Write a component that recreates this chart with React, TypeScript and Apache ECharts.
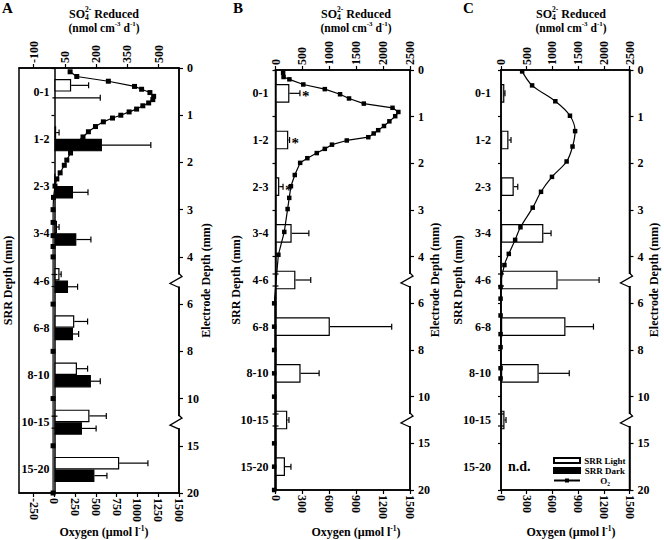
import React, { useEffect, useRef } from 'react';
import * as echarts from 'echarts';

const FONT = '"Liberation Serif", "Times New Roman", serif';

// ---------- data ----------
const srrDepths = ['0-1', '1-2', '2-3', '3-4', '4-6', '6-8', '8-10', '10-15', '15-20'];
const electrodeTicks = [0, 1, 2, 3, 4, 6, 8, 10, 15, 20];

const o2TicksA = [-250, 0, 250, 500, 750, 1000, 1250, 1500];
const so4TicksA = [-100, 50, 200, 350, 500];

// Panel A (SO4 nmol cm-3 d-1)
const lightA = [80, 8, 3, 12, 24, 95, 108, 168, 311];
const lightErrA = [84, 14, 0, 10, 8, 64, 51, 81, 138];
const darkA = [-10, 228, 89, 105, 65, 89, 175, 132, 192];
const darkErrA = [230, 235, 72, 70, 46, 27, 45, 68, 60];
// Panel A oxygen profile (depth mm, µmol l-1)
const o2DepthA = [0.08, 0.18, 0.28, 0.39, 0.45, 0.52, 0.6, 0.67, 0.74, 0.8, 0.87, 0.93, 1.0, 1.06, 1.14, 1.24, 1.35, 1.46, 1.57, 1.68, 1.8, 1.95, 2.06, 2.22, 2.35, 2.5, 2.74, 3.0, 3.27, 3.55, 3.78, 4.0, 6, 8, 10, 15, 20];
const o2A = [190, 270, 650, 965, 1050, 1150, 1195, 1185, 1135, 1065, 990, 900, 800, 700, 590, 495, 410, 345, 270, 225, 195, 150, 120, 70, 30, 8, -10, -15, -15, -15, -15, -15, -15, -15, -15, -15, -15];

// Panel B
const lightB = [258, 237, 70, 300, 370, 1010, 466, 218, 176];
const lightErrB = [196, 25, 70, 320, 285, 1150, 345, 32, 111];
const starsB = [1, 1, 1, 0, 0, 0, 0, 0, 0];
const o2DepthB = [0.06, 0.15, 0.2, 0.31, 0.41, 0.52, 0.61, 0.72, 0.81, 0.9, 0.99, 1.1, 1.2, 1.29, 1.36, 1.44, 1.51, 1.6, 1.69, 1.78, 1.89, 1.99, 2.25, 2.49, 2.74, 2.98, 3.47, 3.96, 6, 7, 8, 9, 10, 15, 17.5, 20];
const o2B = [85, 90, 155, 310, 550, 720, 820, 985, 1305, 1370, 1335, 1270, 1210, 1145, 1095, 1035, 795, 630, 550, 460, 355, 275, 215, 172, 153, 135, 98, 32, -15, -15, -15, -15, -15, -15, -15, -15];

// Panel C
const lightC = [65, 145, 248, 824, 1101, 1254, 733, 68, null];
const lightErrC = [12, 50, 78, 150, 808, 545, 595, 30, 0];
const notDetectedC = [0, 0, 0, 0, 0, 0, 0, 0, 1];
const o2DepthC = [0.03, 0.33, 0.67, 0.98, 1.31, 1.64, 1.96, 2.29, 2.61, 2.95, 3.37, 3.64, 3.94, 4.36, 5.3, 5.8, 6.52, 7.32, 7.88, 8.78, 9.22];
const o2C = [247, 363, 634, 805, 865, 835, 766, 595, 467, 370, 227, 165, 91, 40, -5, -5, -5, -5, -5, -5, -5];

// ---------- helpers ----------
function depthToPos(d: number): number {
  const t = electrodeTicks;
  for (let i = 0; i < t.length - 1; i++) {
    if (d <= t[i + 1]) return i + (d - t[i]) / (t[i + 1] - t[i]);
  }
  return t.length - 1;
}

let measureCtx: CanvasRenderingContext2D | null = null;
function textWidth(t: string, fs: number): number {
  if (!measureCtx) measureCtx = document.createElement('canvas').getContext('2d');
  if (!measureCtx) return t.length * fs * 0.5;
  measureCtx.font = `bold ${fs}px "Liberation Serif"`;
  return measureCtx.measureText(t).width;
}

function txt(x: number, y: number, t: string, fs: number, align = 'left', weight = 'bold') {
  return {
    type: 'text', x, y, z: 60, silent: true,
    style: {
      text: t, fontSize: fs, fontWeight: weight, fontFamily: FONT, fill: '#000', textFill: '#000',
      align, verticalAlign: 'middle', textAlign: align, textVerticalAlign: 'middle',
    },
  };
}

type Part = { t: string; fs: number; dy?: number };
type Seg = Part | { stack: Part[] };
function lineTexts(cx: number, cy: number, segs: Seg[]) {
  const widths = segs.map((s) =>
    'stack' in s ? Math.max(...s.stack.map((q) => textWidth(q.t, q.fs))) : textWidth(s.t, s.fs)
  );
  const total = widths.reduce((a, b) => a + b, 0);
  let x = cx - total / 2;
  const out: any[] = [];
  segs.forEach((s, i) => {
    const parts = 'stack' in s ? s.stack : [s];
    parts.forEach((p) => out.push(txt(x, cy + (p.dy || 0), p.t, p.fs)));
    x += widths[i];
  });
  return out;
}

function errorBarSeries(xi: number, yi: number, vals: (number | null)[], errs: number[], offsetFrac: number, stars?: number[], nd?: number[]) {
  const data = vals.map((v, i) => [v == null ? 0 : v, i, v == null ? 0 : errs[i], stars ? stars[i] : 0, nd ? nd[i] : 0]);
  return {
    type: 'custom', xAxisIndex: xi, yAxisIndex: yi, z: 8, silent: true, clip: false,
    encode: { x: 0, y: 1 },
    itemStyle: { color: '#000' },
    data,
    renderItem: (params: any, api: any) => {
      const v = api.value(0) as number;
      const c = api.value(1) as number;
      const e = api.value(2) as number;
      const star = api.value(3);
      const ndf = api.value(4);
      const band = (api.size([0, 1], [v, c]) as number[])[1];
      const p0 = api.coord([v, c]);
      const p1 = api.coord([v + e, c]);
      const y = p0[1] + offsetFrac * band;
      const children: any[] = [];
      const ls = { stroke: '#000', lineWidth: 1.2 };
      if (e > 0) {
        children.push({ type: 'line', shape: { x1: p0[0], y1: y, x2: p1[0], y2: y }, style: ls });
        children.push({ type: 'line', shape: { x1: p1[0], y1: y - 3, x2: p1[0], y2: y + 3 }, style: ls });
      }
      if (star) children.push(txt(p1[0] + 2, y + 3, '*', 15, 'left', 'bold'));
      if (ndf) children.push(txt(p0[0] + 7, y, 'n.d.', 14));
      return { type: 'group', children };
    },
  };
}

const panels = [
  { letter: 'A', left: 19, top: 68, width: 160, height: 425, o2: [-425, 1500], so4: [-169.6, 598.4], o2Ticks: o2TicksA, so4Ticks: so4TicksA, catMargin: 5, leftGap: 41, rightGap: 21, cx: 104, letterX: 2 },
  { letter: 'B', left: 275.5, top: 70, width: 134.5, height: 420, o2: [0, 1500], so4: [0, 2500], o2Interval: 300, so4Interval: 500, catMargin: 7, leftGap: 34, rightGap: 18.5, cx: 356, letterX: 233 },
  { letter: 'C', left: 501, top: 70, width: 128.5, height: 420, o2: [0, 1500], so4: [0, 2500], o2Interval: 300, so4Interval: 500, catMargin: 10, leftGap: 37.5, rightGap: 18.5, cx: 571, letterX: 463 },
] as any[];

const axisLineStyle = { color: '#000', width: 1.5 };
const tickStyle = { color: '#000', width: 1.2 };
const labelStyle = { color: '#000', fontSize: 12, fontWeight: 'bold', fontFamily: FONT };
const nameStyle = { color: '#000', fontSize: 12, fontWeight: 'bold', fontFamily: FONT };
const plain = (v: number) => String(v);

function buildOption() {
  const grid: any[] = [];
  const xAxis: any[] = [];
  const yAxis: any[] = [];
  const graphic: any[] = [];

  panels.forEach((p, k) => {
    // zero position of the bar / oxygen axes (both share the same zero)
    const zeroFrac = (0 - p.o2[0]) / (p.o2[1] - p.o2[0]);
    const innerLeft = Math.round((p.left + zeroFrac * p.width) * 2) / 2;
    const right = p.left + p.width;
    // outer grid: frame, top/bottom/right axes, oxygen profile
    grid.push({ left: p.left, top: p.top, width: p.width, height: p.height, containLabel: false, outerBoundsMode: 'none', show: true, borderColor: '#000', borderWidth: 1.5, backgroundColor: 'transparent' });
    // inner grid: SRR category axis starting at zero
    grid.push({ left: innerLeft, top: p.top, width: right - innerLeft, height: p.height, containLabel: false, outerBoundsMode: 'none', show: false });
    const so4Max = p.so4[0] + ((p.so4[1] - p.so4[0]) * (right - p.left)) / p.width;

    // top SO4 axis (outer)
    xAxis.push({
      gridIndex: 2 * k, type: 'value', position: 'top', min: p.so4[0], max: p.so4[1],
      ...(p.so4Interval ? { interval: p.so4Interval } : {}),
      axisLine: { show: true, onZero: false, lineStyle: axisLineStyle },
      axisTick: { show: true, length: 4, lineStyle: tickStyle, ...(p.so4Ticks ? { customValues: p.so4Ticks } : {}) },
      axisLabel: { ...labelStyle, rotate: -90, margin: 5, formatter: plain, ...(p.so4Ticks ? { customValues: p.so4Ticks } : {}) },
      splitLine: { show: false },
    });
    // bottom O2 axis (outer)
    xAxis.push({
      gridIndex: 2 * k, type: 'value', position: 'bottom', min: p.o2[0], max: p.o2[1],
      ...(p.o2Interval ? { interval: p.o2Interval } : {}),
      axisLine: { show: true, onZero: false, lineStyle: axisLineStyle },
      axisTick: { show: true, length: 4, lineStyle: tickStyle, ...(p.o2Ticks ? { customValues: p.o2Ticks } : {}) },
      axisLabel: { ...labelStyle, rotate: -90, margin: 5, formatter: plain, ...(p.o2Ticks ? { customValues: p.o2Ticks } : {}) },
      splitLine: { show: false },
    });
    // hidden SO4 axis for the bars (inner, from zero)
    xAxis.push({
      gridIndex: 2 * k + 1, type: 'value', show: false, min: 0, max: so4Max,
      axisLine: { show: false, onZero: false }, splitLine: { show: false },
    });
    // right electrode depth axis (outer)
    yAxis.push({
      gridIndex: 2 * k, type: 'value', position: 'right', inverse: true, min: 0, max: electrodeTicks.length - 1, interval: 1,
      axisLine: { show: true, onZero: false, lineStyle: axisLineStyle },
      axisTick: { show: true, length: 4, lineStyle: tickStyle },
      axisLabel: { ...labelStyle, margin: 8, formatter: (v: number) => String(electrodeTicks[Math.round(v)]) },
      splitLine: { show: false },
      name: 'Electrode Depth (mm)', nameLocation: 'middle', nameRotate: 90, nameGap: p.rightGap, nameMoveOverlap: false, nameTextStyle: nameStyle,
    });
    // left SRR category axis (inner)
    yAxis.push({
      gridIndex: 2 * k + 1, type: 'category', data: srrDepths, inverse: true, position: 'left',
      axisLine: { show: true, onZero: false, lineStyle: axisLineStyle },
      axisTick: { show: true, length: 3, lineStyle: tickStyle },
      axisLabel: { ...labelStyle, margin: p.catMargin },
      splitLine: { show: false },
      name: 'SRR Depth (mm)', nameLocation: 'middle', nameRotate: 90, nameGap: p.leftGap, nameMoveOverlap: false, nameTextStyle: nameStyle,
    });

    // decorations: letter, titles, bottom label
    graphic.push(txt(p.letterX, 8, p.letter, 15));
    graphic.push(...lineTexts(p.cx, 13.5, [
      { t: 'SO', fs: 12 },
      { stack: [{ t: '2-', fs: 7.5, dy: -4 }, { t: '4', fs: 7.5, dy: 3.5 }] },
      { t: ' Reduced', fs: 12 },
    ]));
    graphic.push(...lineTexts(p.cx, 27.5, [
      { t: '(nmol cm', fs: 11.5 },
      { t: '-3', fs: 7, dy: -3.5 },
      { t: ' d', fs: 11.5 },
      { t: '-1', fs: 7, dy: -3.5 },
      { t: ')', fs: 11.5 },
    ]));
    graphic.push(...lineTexts(p.cx, 532, [
      { t: 'Oxygen (µmol l', fs: 12 },
      { t: '-1', fs: 7.5, dy: -3.5 },
      { t: ')', fs: 12 },
    ]));

    // axis breaks
    const band = p.height / (electrodeTicks.length - 1);
    const rx = right;
    const lx = innerLeft;
    [4.5, 7.5].forEach((b) => {
      const yb = p.top + b * band;
      graphic.push({ type: 'rect', z: 50, silent: true, shape: { x: rx - 2, y: yb - 6, width: 4, height: 12 }, style: { fill: '#fff' } });
      graphic.push({ type: 'polyline', z: 51, silent: true, shape: { points: [[rx, yb - 7], [rx + 3, yb - 4], [rx - 9, yb + 3], [rx, yb + 7]] }, style: { stroke: '#000', lineWidth: 1.3, fill: null } });
      graphic.push({ type: 'line', z: 51, silent: true, shape: { x1: lx - 3, y1: yb - 6, x2: lx + 3, y2: yb - 6 }, style: { stroke: '#000', lineWidth: 1.2 } });
      graphic.push({ type: 'line', z: 51, silent: true, shape: { x1: lx - 3, y1: yb + 6, x2: lx + 3, y2: yb + 6 }, style: { stroke: '#000', lineWidth: 1.2 } });
    });
  });

  const lightStyle = { color: '#fff', borderColor: '#000', borderWidth: 1.2 };
  const darkStyle = { color: '#000', borderColor: '#000', borderWidth: 1.2 };
  const barX = (k: number) => 3 * k + 2;
  const barY = (k: number) => 2 * k + 1;
  const lineSeries = (k: number, depths: number[], vals: number[], smooth: boolean | number, size: number) => ({
    type: 'line', name: 'O₂', xAxisIndex: 3 * k + 1, yAxisIndex: 2 * k,
    data: vals.map((v, i) => [v, depthToPos(depths[i])]),
    symbol: 'rect', symbolSize: size, showSymbol: true, smooth, clip: false, z: 6,
    lineStyle: { color: '#000', width: 1.2 }, itemStyle: { color: '#000' },
  });

  const series: any[] = [
    // Panel A
    { type: 'bar', name: 'SRR Light', xAxisIndex: barX(0), yAxisIndex: barY(0), data: lightA, barCategoryGap: '47%', barGap: '0%', itemStyle: lightStyle, z: 2 },
    { type: 'bar', name: 'SRR Dark', xAxisIndex: barX(0), yAxisIndex: barY(0), data: darkA, barCategoryGap: '47%', barGap: '0%', itemStyle: darkStyle, z: 2 },
    errorBarSeries(barX(0), barY(0), lightA, lightErrA, -0.1325),
    errorBarSeries(barX(0), barY(0), darkA, darkErrA, 0.1325),
    lineSeries(0, o2DepthA, o2A, false, 5),
    // Panel B
    { type: 'bar', name: 'SRR Light', xAxisIndex: barX(1), yAxisIndex: barY(1), data: lightB, barCategoryGap: '60%', itemStyle: lightStyle, z: 2 },
    errorBarSeries(barX(1), barY(1), lightB, lightErrB, 0, starsB),
    lineSeries(1, o2DepthB, o2B, false, 4.5),
    // Panel C
    { type: 'bar', name: 'SRR Light', xAxisIndex: barX(2), yAxisIndex: barY(2), data: lightC, barCategoryGap: '60%', itemStyle: lightStyle, z: 2 },
    errorBarSeries(barX(2), barY(2), lightC, lightErrC, 0, undefined, notDetectedC),
    lineSeries(2, o2DepthC, o2C, 0.35, 4.5),
  ];

  return {
    animation: false,
    backgroundColor: '#fff',
    textStyle: { fontFamily: FONT },
    grid, xAxis, yAxis, series, graphic,
    legend: {
      show: true, orient: 'vertical', left: 553, top: 456, padding: 0,
      itemWidth: 26, itemHeight: 5, itemGap: 1, selectedMode: false,
      data: [{ name: 'SRR Light', icon: 'rect' }, { name: 'SRR Dark', icon: 'rect' }, { name: 'O₂' }],
      formatter: (n: string) => `{t|${n}}`,
      textStyle: { rich: { t: { width: 40, align: 'center', fontSize: 9, fontWeight: 'bold', fontFamily: FONT, color: '#000', lineHeight: 9 } } },
    },
  };
}

export default function App() {
  const ref = useRef<HTMLDivElement>(null);
  useEffect(() => {
    if (!ref.current) return;
    const chart = echarts.init(ref.current, undefined, { renderer: 'svg' });
    chart.setOption(buildOption() as any);
    return () => chart.dispose();
  }, []);
  return <div ref={ref} style={{ position: 'fixed', left: 0, top: 0, width: 664, height: 540, background: '#fff' }} />;
}
